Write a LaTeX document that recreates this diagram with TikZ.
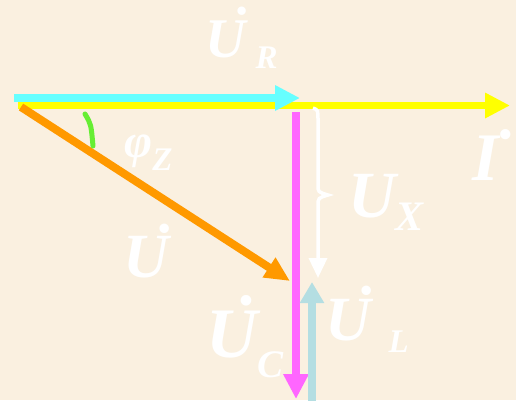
\documentclass[tikz,border=0pt]{standalone}
\usepackage{fontspec}
\setmainfont{Liberation Serif}
\usetikzlibrary{arrows.meta}
\definecolor{phasebg}{RGB}{250,240,224}
\definecolor{phaseyellow}{RGB}{255,255,0}
\definecolor{phasecyan}{RGB}{102,255,255}
\definecolor{phaseorange}{RGB}{255,153,0}
\definecolor{phasemagenta}{RGB}{255,102,255}
\definecolor{phaseblue}{RGB}{180,222,226}
\definecolor{phasegreen}{RGB}{102,238,51}
\tikzset{
    vec/.style={line width=8pt, -{Triangle[length=25pt,width=24pt]}},
    lbl/.style={text=white, font=\bfseries\itshape, inner sep=0pt, anchor=base west},
}
\newcommand{\fsz}[1]{\fontsize{#1}{#1}\selectfont}
% letter with a phasor dot at its upper right
\newcommand{\phdot}[3]{#3\llap{\raisebox{#1}{˙}\kern#2}}

\begin{document}
\begin{tikzpicture}[x=1pt,y=-1pt]
    \useasboundingbox (0,0) rectangle (516,400);
    \fill[phasebg] (0,0) rectangle (516,400);

    % phasor end points
    \coordinate (y0) at (18,105.5);
    \coordinate (y1) at (510,105.5);
    \coordinate (c0) at (14,98);
    \coordinate (c1) at (300,98);
    \coordinate (o0) at (21,107);
    \coordinate (o1) at (290,281);
    \coordinate (m0) at (296,112);
    \coordinate (m1) at (296,399);
    \coordinate (l0) at (312,410);
    \coordinate (l1) at (312,282);

    % current and voltages
    \draw[vec, phaseyellow, line width=7pt] (y0) -- (y1);
    \draw[vec, phasecyan] (c0) -- (c1);
    \draw[vec, phaseorange, -{Triangle[length=25pt,width=22pt]}] (o0) -- (o1);
    \draw[vec, phasemagenta] (m0) -- (m1);
    \draw[vec, phaseblue, -{Triangle[length=21pt,width=23pt]}] (l0) -- (l1);

    % brace for U_X
    \draw[white, line width=3.5pt, -{Triangle[length=20pt,width=18pt]}]
        (313,108) .. controls (318,110) .. (318,120) -- (318,185)
        .. controls (318,192) .. (328,195)
        .. controls (318,198) .. (318,206) -- (318,278);

    % angle mark
    \draw[phasegreen, line width=5pt, line cap=round]
        (85,114) .. controls (91,124) .. (93,146);

    % labels
    \node[lbl] (uR) at (205,57) {\fsz{56}\phdot{.19em}{-.05em}{U}\hspace{10pt}\raisebox{-11pt}{\fsz{33}R}};
    \node[lbl] (phi) at (124,157) {\fsz{48}φ\raisebox{-13pt}{\fsz{33}Z}};
    \node[lbl] (uX) at (348,217) {\fsz{66}U\raisebox{-13pt}{\fsz{42}X}};
    \node[lbl] (cur) at (472,180) {\fsz{68}\phdot{.04em}{-.21em}{I}};
    \node[lbl] (u) at (123,277) {\fsz{63}\phdot{.14em}{-.05em}{U}};
    \node[lbl] (uC) at (206,357) {\fsz{71}\phdot{.16em}{.05em}{U}\raisebox{-20pt}{\fsz{39}C}};
    \node[lbl] (uL) at (325,340) {\fsz{63}\phdot{.15em}{-.05em}{U}\hspace{18pt}\raisebox{-12pt}{\fsz{33}L}};
\end{tikzpicture}
\end{document}
